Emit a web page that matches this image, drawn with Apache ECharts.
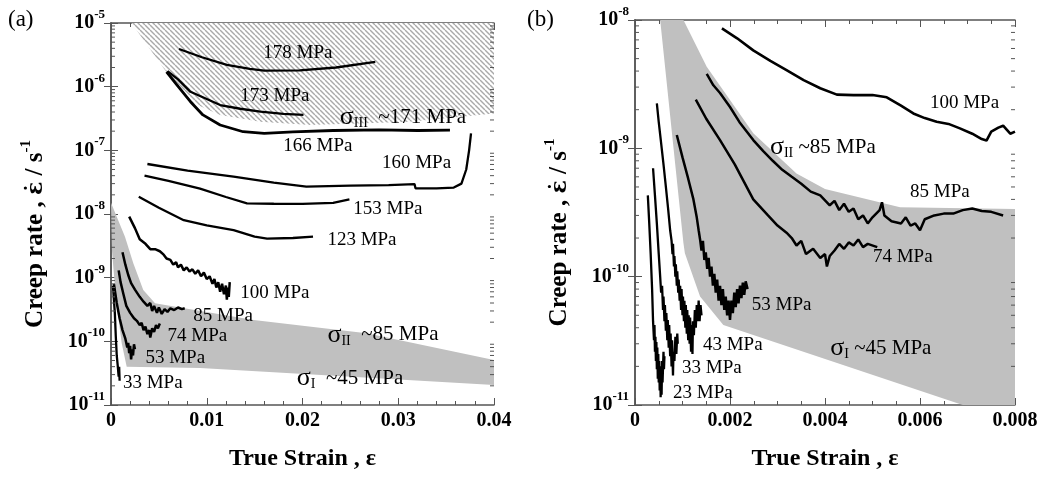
<!DOCTYPE html>
<html><head><meta charset="utf-8">
<script src="https://cdn.jsdelivr.net/npm/echarts@6/dist/echarts.min.js"></script>
<style>html,body{margin:0;padding:0;background:#fff}#c{width:1046px;height:479px}</style>
</head><body><div id="c"></div>
<script>
// ---------------- DATA: panel (a) ----------------
const A_178 = [[0.0071,3.9e-6],[0.0095,2.9e-6],[0.0121,2.2e-6],[0.0145,1.9e-6],[0.0160,1.78e-6],[0.0197,1.8e-6],[0.0235,2.0e-6],[0.0276,2.45e-6]];
const A_173 = [[0.0059,1.75e-6],[0.0070,1.3e-6],[0.0083,8.3e-7],[0.0100,6.4e-7],[0.0114,5.15e-7],[0.0135,4.5e-7],[0.0156,4.05e-7],[0.0180,3.75e-7],[0.0201,3.6e-7]];
const A_166 = [[0.0058,1.7e-6],[0.0069,1.06e-6],[0.0083,5.8e-7],[0.0096,3.6e-7],[0.0114,2.5e-7],[0.0138,1.96e-7],[0.0160,1.85e-7],[0.0190,1.95e-7],[0.0232,2.05e-7],[0.0280,2.1e-7],[0.0320,2.05e-7],[0.0354,2.08e-7]];
const A_160 = [[0.0038,6.1e-8],[0.0080,4.8e-8],[0.0128,3.85e-8],[0.0170,3.1e-8],[0.0204,2.7e-8],[0.0250,2.8e-8],[0.0290,2.85e-8],[0.0317,2.95e-8],[0.0318,2.53e-8],[0.0340,2.53e-8],[0.0358,2.6e-8],[0.0366,3.0e-8],[0.0371,5e-8],[0.0374,1.0e-7],[0.0376,1.85e-7]];
const A_153 = [[0.0035,4.0e-8],[0.0060,3.3e-8],[0.0093,2.5e-8],[0.0120,1.85e-8],[0.0142,1.47e-8],[0.0170,1.45e-8],[0.0200,1.44e-8],[0.0232,1.5e-8],[0.0249,1.7e-8]];
const A_123 = [[0.0029,1.87e-8],[0.0050,1.25e-8],[0.0076,8.0e-9],[0.0100,6.6e-9],[0.0128,5.6e-9],[0.0150,4.4e-9],[0.0163,4.1e-9],[0.0190,4.2e-9],[0.0211,4.4e-9]];
const A_100 = [[0.0019,9.1e-9],[0.0025,6.0e-9],[0.0030,4.0e-9],[0.0036,3.4e-9],[0.0041,2.8e-9],[0.0046,2.8e-9],[0.0051,2.6e-9],[0.0055,2.3e-9],[0.0058,2.0e-9],[0.0062,1.9e-9],[0.0065,1.6e-9],[0.0068,1.75e-9],[0.0070,1.45e-9],[0.0073,1.6e-9],[0.0076,1.3e-9],[0.0079,1.45e-9],[0.0082,1.25e-9],[0.0085,1.35e-9],[0.0088,1.15e-9],[0.0091,1.3e-9],[0.0094,1.05e-9],[0.0097,1.2e-9],[0.0100,0.95e-9],[0.0103,1.05e-9],[0.0106,0.8e-9],[0.0108,0.95e-9],[0.0110,0.7e-9],[0.0112,0.85e-9],[0.0114,0.6e-9],[0.0116,0.8e-9],[0.0118,0.55e-9],[0.0120,0.75e-9],[0.0121,0.45e-9],[0.0122,0.7e-9],[0.0123,0.5e-9],[0.0124,0.85e-9]];
const A_85 = [[0.0012,2.5e-9],[0.0015,1.6e-9],[0.0018,1.1e-9],[0.0021,8.2e-10],[0.0025,6.5e-10],[0.0030,5.0e-10],[0.0034,4.2e-10],[0.0038,3.6e-10],[0.0041,4.0e-10],[0.0043,3.0e-10],[0.0045,3.6e-10],[0.0048,2.8e-10],[0.0050,3.4e-10],[0.0053,2.7e-10],[0.0056,3.2e-10],[0.0059,2.9e-10],[0.0062,3.3e-10],[0.0066,3.1e-10],[0.0070,3.4e-10],[0.0074,3.2e-10],[0.0077,3.3e-10]];
const A_74 = [[0.0008,1.3e-9],[0.0010,8.5e-10],[0.0013,5.5e-10],[0.0016,3.6e-10],[0.0020,2.8e-10],[0.0024,2.3e-10],[0.0027,2.1e-10],[0.0030,1.8e-10],[0.0032,1.95e-10],[0.0034,1.5e-10],[0.0036,1.7e-10],[0.0038,1.3e-10],[0.0040,1.5e-10],[0.0041,1.15e-10],[0.0043,1.6e-10],[0.0045,1.4e-10],[0.0047,1.8e-10],[0.0049,1.6e-10],[0.0051,1.9e-10]];
const A_53 = [[0.0003,8e-10],[0.0006,4e-10],[0.0009,2.3e-10],[0.0012,1.5e-10],[0.0015,1.1e-10],[0.0017,8e-11],[0.0018,9.5e-11],[0.0019,6.5e-11],[0.0020,8.5e-11],[0.0021,5.2e-11],[0.0022,7.5e-11],[0.0023,6e-11],[0.0024,9e-11],[0.0025,7.5e-11]];
const A_33 = [[0.0002,7.5e-10],[0.0004,2.8e-10],[0.0005,1.2e-10],[0.0006,6e-11],[0.0007,4.2e-11],[0.0008,2.8e-11],[0.00085,4e-11],[0.0009,2.4e-11]];
const A_HATCH = [[0.00216,1e-5],[0.0034,5.4e-6],[0.0055,1.95e-6],[0.0083,5.8e-7],[0.0114,3.6e-7],[0.0156,2.82e-7],[0.0208,2.5e-7],[0.0312,2.82e-7],[0.04,3.8e-7],[0.04,1e-5]];
const A_GREY = [[0,1.5e-8],[0.00146,4.4e-9],[0.00233,1.68e-9],[0.00337,6.4e-10],[0.0046,3.96e-10],[0.00582,3.7e-10],[0.0149,2.16e-10],[0.0267,1.34e-10],[0.04,5.1e-11],[0.04,2.06e-11],[0.0093,3.8e-11],[0.00164,4.0e-11],[0.00112,9.3e-11],[0.00052,4.5e-10],[0.0001,2.7e-9]];
const A_LABELS = [
  ['178 MPa',0.0159,3.38e-6],['173 MPa',0.0135,7.1e-7],['166 MPa',0.0180,1.17e-7],['160 MPa',0.0283,6.3e-8],
  ['153 MPa',0.0253,1.2e-8],['123 MPa',0.0226,3.9e-9],['100 MPa',0.0135,5.7e-10],['85 MPa',0.0086,2.5e-10],
  ['74 MPa',0.0059,1.21e-10],['53 MPa',0.0036,5.5e-11],['33 MPa',0.00125,2.2e-11]
];
const A_SIGMA = [['III','  ~171 MPa',0.0239,3.34e-7],['II','  ~85 MPa',0.0226,1.26e-10],['I','  ~45 MPa',0.0194,2.65e-11]];

// ---------------- DATA: panel (b) ----------------
const B_100 = [[0.00183,8.6e-9],[0.00215,7.2e-9],[0.00249,5.8e-9],[0.00285,4.8e-9],[0.00319,4.07e-9],[0.00355,3.4e-9],[0.0039,2.94e-9],[0.00425,2.62e-9],[0.0046,2.6e-9],[0.0050,2.6e-9],[0.0053,2.5e-9],[0.0056,2.15e-9],[0.00586,1.87e-9],[0.0061,1.72e-9],[0.00635,1.61e-9],[0.0066,1.55e-9],[0.00684,1.43e-9],[0.0071,1.3e-9],[0.0073,1.18e-9],[0.0074,1.15e-9],[0.0075,1.35e-9],[0.00765,1.45e-9],[0.00775,1.5e-9],[0.0079,1.3e-9],[0.008,1.35e-9]];
const B_85 = [[0.00151,3.8e-9],[0.00165,3.1e-9],[0.00179,2.7e-9],[0.0020,2.1e-9],[0.0022,1.6e-9],[0.00249,1.16e-9],[0.0027,9.5e-10],[0.0029,8.0e-10],[0.0031,6.8e-10],[0.0033,6.0e-10],[0.0035,5.3e-10],[0.0037,4.6e-10],[0.0039,4.3e-10],[0.0041,3.6e-10],[0.0042,3.9e-10],[0.0043,3.3e-10],[0.0044,3.7e-10],[0.0045,3.2e-10],[0.0046,3.4e-10],[0.0047,2.8e-10],[0.0048,3.0e-10],[0.0049,2.6e-10],[0.0050,2.9e-10],[0.00515,3.3e-10],[0.0052,3.8e-10],[0.00525,3.0e-10],[0.0054,2.7e-10],[0.0056,2.6e-10],[0.0057,2.9e-10],[0.0058,2.5e-10],[0.0059,2.6e-10],[0.0060,2.3e-10],[0.0061,2.8e-10],[0.0063,3.0e-10],[0.0065,3.1e-10],[0.0067,3.1e-10],[0.0069,3.3e-10],[0.0071,3.4e-10],[0.0073,3.25e-10],[0.0075,3.2e-10],[0.00775,3.0e-10]];
const B_74 = [[0.00128,2.4e-9],[0.0015,1.7e-9],[0.00179,1.16e-9],[0.0021,7.5e-10],[0.00249,4.0e-10],[0.0028,3.0e-10],[0.0030,2.5e-10],[0.00319,2.2e-10],[0.0033,2.0e-10],[0.0034,1.75e-10],[0.0035,1.9e-10],[0.0036,1.5e-10],[0.00375,1.65e-10],[0.0039,1.4e-10],[0.0040,1.5e-10],[0.00404,1.2e-10],[0.0041,1.45e-10],[0.0042,1.6e-10],[0.0043,1.8e-10],[0.0044,1.65e-10],[0.0045,1.85e-10],[0.0046,1.75e-10],[0.0047,1.95e-10],[0.0048,1.7e-10],[0.0049,1.8e-10],[0.0051,1.7e-10]];
const B_53 = [[0.00088,1.27e-9],[0.0010,8.5e-10],[0.00112,5.8e-10],[0.00123,4.0e-10],[0.0013,2.9e-10],[0.00134,2.3e-10],[0.00137,1.95e-10],[0.0014,1.6e-10],[0.00143,1.9e-10],[0.00146,1.35e-10],[0.00149,1.55e-10],[0.00152,1.15e-10],[0.00155,1.4e-10],[0.00158,1.0e-10],[0.00161,1.2e-10],[0.00164,8.5e-11],[0.00167,1.05e-10],[0.0017,7.5e-11],[0.00173,9.5e-11],[0.00176,6.5e-11],[0.00179,8.5e-11],[0.00182,6.0e-11],[0.00185,8.0e-11],[0.00188,5.5e-11],[0.00191,7.0e-11],[0.00194,5.0e-11],[0.00197,6.5e-11],[0.002,4.6e-11],[0.00203,6.5e-11],[0.00206,5.2e-11],[0.00209,7.5e-11],[0.00212,5.8e-11],[0.00215,8.0e-11],[0.00218,6.2e-11],[0.00221,8.5e-11],[0.00224,6.8e-11],[0.00227,9.0e-11],[0.0023,7.2e-11],[0.00233,9.2e-11],[0.00237,8.0e-11]];
const B_43 = [[0.00046,2.24e-9],[0.0005,1.6e-9],[0.00055,1.1e-9],[0.0006,7.5e-10],[0.00065,5e-10],[0.0007,3.3e-10],[0.00074,2.3e-10],[0.00077,1.9e-10],[0.00079,1.5e-10],[0.0008,1.8e-10],[0.00082,1.2e-10],[0.00083,1.45e-10],[0.00085,1.0e-10],[0.00086,1.25e-10],[0.00088,8.5e-11],[0.00089,1.1e-10],[0.00091,7.5e-11],[0.00092,9.5e-11],[0.00094,6.5e-11],[0.00095,8.5e-11],[0.00097,5.5e-11],[0.00098,8e-11],[0.001,5e-11],[0.00101,7e-11],[0.00103,4.5e-11],[0.00104,6.5e-11],[0.00106,4e-11],[0.00107,6e-11],[0.00109,3.6e-11],[0.0011,5.5e-11],[0.00112,3.2e-11],[0.00113,5e-11],[0.00115,3e-11],[0.00116,4.8e-11],[0.00118,2.6e-11],[0.00119,4.2e-11],[0.00121,2.5e-11],[0.00122,4.5e-11],[0.00124,3.5e-11],[0.00126,5.5e-11],[0.00128,4e-11],[0.0013,6e-11],[0.00132,4.5e-11],[0.00134,6.5e-11],[0.00136,4.5e-11],[0.00138,6e-11],[0.0014,5e-11]];
const B_33 = [[0.00038,7e-10],[0.00042,4.3e-10],[0.00046,2.6e-10],[0.0005,1.5e-10],[0.00053,1.0e-10],[0.00055,7.5e-11],[0.00057,8.5e-11],[0.00059,5.5e-11],[0.0006,7e-11],[0.00062,4.5e-11],[0.00063,6e-11],[0.00065,3.8e-11],[0.00066,5.2e-11],[0.00068,3.2e-11],[0.00069,4.6e-11],[0.00071,2.8e-11],[0.00072,4.2e-11],[0.00074,2.4e-11],[0.00075,3.6e-11],[0.00077,2.0e-11],[0.00078,3.2e-11],[0.0008,1.7e-11],[0.00081,2.6e-11],[0.00083,2.2e-11],[0.00085,3.4e-11],[0.00087,2.5e-11],[0.00089,3.6e-11],[0.0009,3.0e-11]];
const B_23 = [[0.00027,4.3e-10],[0.0003,2.6e-10],[0.00033,1.5e-10],[0.00036,8e-11],[0.00038,4.5e-11],[0.0004,3.2e-11],[0.00041,4.2e-11],[0.00042,2.6e-11],[0.00043,3.4e-11],[0.00044,2.2e-11],[0.00045,3.1e-11],[0.00046,1.9e-11],[0.00047,2.8e-11],[0.00048,1.6e-11],[0.00049,2.5e-11],[0.0005,1.5e-11],[0.00051,2.2e-11],[0.00052,1.3e-11],[0.00053,2.0e-11],[0.00054,1.15e-11],[0.00055,1.8e-11],[0.00056,1.2e-11],[0.00057,2.2e-11],[0.00058,1.5e-11],[0.0006,2.6e-11],[0.00061,1.9e-11],[0.00062,2.4e-11]];
const B_GREY = [[0.00053,1e-8],[0.00102,1e-8],[0.00151,4.33e-9],[0.00249,1.31e-9],[0.0034,6.38e-10],[0.004,4.82e-10],[0.00558,3.47e-10],[0.008,3.36e-10],[0.008,1e-11],[0.0069,1e-11],[0.00186,4.2e-11],[0.00137,7e-11],[0.00105,1.52e-10],[0.00102,1.82e-10]];
const B_LABELS = [
  ['100 MPa',0.00621,2.25e-9],['85 MPa',0.00579,4.57e-10],['74 MPa',0.00501,1.42e-10],['53 MPa',0.00246,6e-11],
  ['43 MPa',0.00143,2.93e-11],['33 MPa',0.00099,1.94e-11],['23 MPa',0.0008,1.24e-11]
];
const B_SIGMA = [['II',' ~85 MPa',0.00284,1.02e-9],['I',' ~45 MPa',0.00411,2.78e-11]];

// tick helpers
const A_XTICKS = {min:0, max:0.04, interval:0.01, minor:5};
const B_XTICKS = {min:0, max:0.008, interval:0.002, minor:4};
const A_YRANGE = [-11,-5];
const B_YRANGE = [-11,-8];

// ---------------- RENDER ----------------
const FONT = '"Liberation Serif", "Times New Roman", serif';
const AX = '#555';

function hatchCanvas(){
  const s = 5, c = document.createElement('canvas');
  c.width = s; c.height = s;
  const g = c.getContext('2d');
  g.fillStyle = '#fff'; g.fillRect(0,0,s,s);
  g.strokeStyle = '#a9a9a9'; g.lineWidth = 1.4;
  for (const k of [-s,0,s]) { g.beginPath(); g.moveTo(k,0); g.lineTo(k+s,s); g.stroke(); }
  return c;
}
const HATCH = {image: hatchCanvas(), repeat: 'repeat'};

function minorVals(r){
  const out=[];
  for (let e=r[0]; e<r[1]; e++) for (let k=2;k<=9;k++) out.push(k*Math.pow(10,e));
  return out;
}

function line(data, gi, w){
  return {type:'line', xAxisIndex:gi*2, yAxisIndex:gi*2, data, symbol:'none', silent:true,
    lineStyle:{color:'#000', width:w||2.3}, z:5, animation:false};
}
function poly(pts, gi, fill, z){
  return {type:'custom', xAxisIndex:gi*2, yAxisIndex:gi*2, data:[pts[0]], z:z||1, silent:true,
    renderItem:(p, api)=>({type:'polygon', shape:{points: pts.map(q=>api.coord(q))}, style:{fill, stroke:null}})};
}
function minorTicks(gi, r, xmin){
  return {type:'custom', xAxisIndex:gi*2, yAxisIndex:gi*2, silent:true, z:10,
    data: minorVals(r).map(v=>[xmin, v]),
    renderItem:(p, api)=>{
      const cs = p.coordSys; const y = api.coord([api.value(0), api.value(1)])[1];
      const st = {stroke:AX, lineWidth:1};
      return {type:'group', children:[
        {type:'line', shape:{x1:cs.x, y1:y, x2:cs.x+4, y2:y}, style:st},
        {type:'line', shape:{x1:cs.x+cs.width, y1:y, x2:cs.x+cs.width-4, y2:y}, style:st}
      ]};
    }};
}
function labels(list, gi){
  return {type:'custom', xAxisIndex:gi*2, yAxisIndex:gi*2, silent:true, z:8,
    data: list.map(l=>[l[1], l[2]]),
    renderItem:(p, api)=>{
      const pt = api.coord([api.value(0), api.value(1)]);
      return {type:'text', x:pt[0], y:pt[1], style:{text:list[p.dataIndex][0], fill:'#000',
        font:'19px ' + FONT, align:'left', verticalAlign:'middle'}};
    }};
}
function sigmas(list, gi){
  return {type:'custom', xAxisIndex:gi*2, yAxisIndex:gi*2, silent:true, z:8,
    data: list.map(l=>[l[2], l[3]]),
    renderItem:(p, api)=>{
      const pt = api.coord([api.value(0), api.value(1)]);
      const l = list[p.dataIndex];
      return {type:'text', x:pt[0], y:pt[1], style:{
        text:'{g|σ}{s|' + l[0] + '}{t|' + l[1] + '}', fill:'#000', align:'left', verticalAlign:'middle',
        rich:{
          g:{fontFamily:FONT, fontSize:26, lineHeight:26, fill:'#000'},
          s:{fontFamily:FONT, fontSize:14, lineHeight:14, verticalAlign:'bottom', fill:'#000'},
          t:{fontFamily:FONT, fontSize:21, lineHeight:26, fill:'#000'}
        }}};
    }};
}

const tickRich = {
  b:{fontFamily:FONT, fontWeight:'bold', fontSize:20, color:'#000', lineHeight:30},
  s:{fontFamily:FONT, fontWeight:'bold', fontSize:13, color:'#000', lineHeight:14, verticalAlign:'top'}
};
const nameRich = {
  n:{fontFamily:FONT, fontWeight:'bold', fontSize:25, color:'#000', lineHeight:34},
  e:{fontFamily:'"DejaVu Serif", serif', fontWeight:'bold', fontSize:22, color:'#000', lineHeight:34},
  s:{fontFamily:FONT, fontWeight:'bold', fontSize:15, color:'#000', lineHeight:16, verticalAlign:'top'}
};

function xAxes(gi, t){
  const base = {gridIndex:gi, type:'value', min:t.min, max:t.max, interval:t.interval,
    axisLine:{lineStyle:{color:AX, width:1.5}}, splitLine:{show:false},
    axisTick:{inside:true, length:7, lineStyle:{color:AX, width:1}},
    minorTick:{show:true, splitNumber:t.minor, length:4, lineStyle:{color:AX, width:1}}};
  return [
    Object.assign({}, base, {position:'bottom',
      axisLabel:{margin:6, color:'#000', fontFamily:FONT, fontWeight:'bold', fontSize:20,
        formatter:v=> v===0 ? '0' : String(+v.toFixed(4))},
      name:'True Strain , ε', nameLocation:'middle', nameGap:42,
      nameTextStyle:{fontFamily:FONT, fontWeight:'bold', fontSize:24, color:'#000'}}),
    Object.assign({}, base, {position:'top', axisLabel:{show:false}})
  ];
}
function yAxes(gi, r){
  const base = {gridIndex:gi, type:'log', logBase:10, min:Math.pow(10,r[0]), max:Math.pow(10,r[1]),
    splitNumber:r[1]-r[0], axisLine:{lineStyle:{color:AX, width:1.5}}, splitLine:{show:false},
    axisTick:{inside:true, length:7, lineStyle:{color:AX, width:1}}, minorTick:{show:false}};
  return [
    Object.assign({}, base, {position:'left',
      axisLabel:{margin:6, formatter:v=>'{b|10}{s|' + Math.round(Math.log10(v)) + '}', rich:tickRich},
      name:'{n|Creep rate , }{e|ε̇}{n| / s}{s|-1}', nameLocation:'middle', nameGap:58,
      nameTextStyle:{rich:nameRich, padding:[0,40,0,0]}}),
    Object.assign({}, base, {position:'right', axisLabel:{show:false}})
  ];
}

const option = {
  animation:false,
  backgroundColor:'#fff',
  grid:[{left:111, top:23, width:383, height:382}, {left:635, top:20, width:380, height:385}],
  xAxis:[...xAxes(0, A_XTICKS), ...xAxes(1, B_XTICKS)],
  yAxis:[...yAxes(0, A_YRANGE), ...yAxes(1, B_YRANGE)],
  graphic:[
    {type:'text', left:8, top:8, style:{text:'(a)', font:'23px ' + FONT, fill:'#000'}},
    {type:'text', left:527, top:8, style:{text:'(b)', font:'23px ' + FONT, fill:'#000'}}
  ],
  series:[
    poly(A_HATCH, 0, HATCH, 1), poly(A_GREY, 0, '#c0c0c0', 1),
    line(A_178,0), line(A_173,0), line(A_166,0,2.8), line(A_160,0), line(A_153,0), line(A_123,0),
    line(A_100,0,2.5), line(A_85,0,2.5), line(A_74,0,2.5), line(A_53,0,2.5), line(A_33,0),
    labels(A_LABELS,0), sigmas(A_SIGMA,0), minorTicks(0, A_YRANGE, 0),
    poly(B_GREY, 1, '#c0c0c0', 1),
    line(B_100,1,2.6), line(B_85,1,2.5), line(B_74,1,2.5), line(B_53,1,2.5), line(B_43,1,2.3), line(B_33,1,2.3), line(B_23,1,2.3),
    labels(B_LABELS,1), sigmas(B_SIGMA,1), minorTicks(1, B_YRANGE, 0)
  ]
};
const chart = echarts.init(document.getElementById('c'));
chart.setOption(option);
</script>
</body></html>
